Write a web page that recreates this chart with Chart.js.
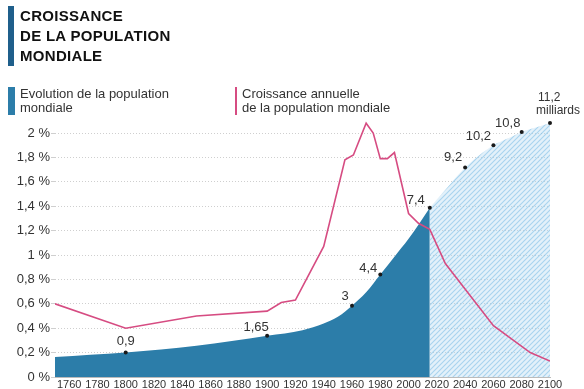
<!DOCTYPE html>
<html>
<head>
<meta charset="utf-8">
<script src="https://cdn.jsdelivr.net/npm/chart.js@4"></script>
<style>
  body { margin: 0; background: #fff; }
  #wrap { position: relative; width: 584px; height: 389px; font-family: "Liberation Sans", Arial, sans-serif; }
  #chart { position: absolute; left: 0; top: 0; }
  .title { position: absolute; left: 8px; top: 8px; border-left: 6px solid #1f5f8b; padding-left: 6px;
           font-weight: bold; font-size: 15px; line-height: 20px; color: #111; letter-spacing: 0.3px; margin-top: -2px; }
  .leg { position: absolute; top: 87px; font-size: 13px; line-height: 14px; color: #333; padding-left: 5px; }
  .leg.blue { left: 8px; border-left: 7px solid #2c7da9; }
  .leg.pink { left: 235px; border-left: 2px solid #d64c82; }
</style>
</head>
<body>
<div id="wrap">
  <canvas id="chart" width="584" height="389"></canvas>
  <div class="title">CROISSANCE<br>DE LA POPULATION<br>MONDIALE</div>
  <div class="leg blue">Evolution de la population<br>mondiale</div>
  <div class="leg pink">Croissance annuelle<br>de la population mondiale</div>
</div>
<script>
// population mondiale (milliards)
const popYears = [1750, 1800, 1850, 1900, 1925, 1940, 1950, 1960, 1970, 1980, 1990, 2000, 2015];
const popValues = [0.7, 0.9, 1.2, 1.65, 1.9, 2.2, 2.5, 3, 3.6, 4.4, 5.2, 6.0, 7.4];
// projection
const projYears = [2015, 2030, 2040, 2050, 2060, 2070, 2080, 2090, 2100];
const projValues = [7.4, 8.5, 9.2, 9.75, 10.2, 10.5, 10.8, 11.0, 11.2];
// croissance annuelle (%)
const growthYears = [1750, 1800, 1850, 1900, 1910, 1920, 1940, 1955, 1961, 1970, 1975, 1980, 1985, 1990, 2000, 2007, 2015, 2026, 2060, 2086, 2100];
const growthValues = [0.6, 0.4, 0.5, 0.54, 0.61, 0.63, 1.07, 1.78, 1.82, 2.08, 2.0, 1.79, 1.79, 1.84, 1.34, 1.26, 1.21, 0.93, 0.42, 0.2, 0.13];
// valeurs annotées
const annoYears = [1800, 1900, 1960, 1980, 2015, 2040, 2060, 2080, 2100];
const annoValues = [0.9, 1.65, 3, 4.4, 7.4, 9.2, 10.2, 10.8, 11.2];
const xTicks = [1760, 1780, 1800, 1820, 1840, 1860, 1880, 1900, 1920, 1940, 1960, 1980, 2000, 2020, 2040, 2060, 2080, 2100];
const yTicks = [0, 0.2, 0.4, 0.6, 0.8, 1, 1.2, 1.4, 1.6, 1.8, 2];

const fmt = v => String(v).replace('.', ',');
const pts = (xs, ys) => xs.map((x, i) => ({ x: x, y: ys[i] }));

// hachures pour la projection
function hatch() {
  const s = 5, c = document.createElement('canvas');
  c.width = s; c.height = s;
  const g = c.getContext('2d');
  g.fillStyle = 'rgba(175,215,240,0.35)';
  g.fillRect(0, 0, s, s);
  g.strokeStyle = 'rgba(120,185,228,0.55)';
  g.lineWidth = 1.1;
  g.beginPath();
  g.moveTo(0, s); g.lineTo(s, 0);
  g.moveTo(-1, 1); g.lineTo(1, -1);
  g.moveTo(s - 1, s + 1); g.lineTo(s + 1, s - 1);
  g.stroke();
  return g.createPattern(c, 'repeat');
}

// label offsets (dx, dy) from the dot
const labelOffsets = [[0, -11], [-11, -8], [-7, -9], [-12, -6], [-14, -7], [-12, -10], [-15, -9], [-14, -9]];

const dotPlugin = {
  id: 'dots',
  afterDatasetsDraw(chart) {
    const ctx = chart.ctx, x = chart.scales.x, pop = chart.scales.pop;
    ctx.save();
    annoYears.forEach((yr, i) => {
      const px = x.getPixelForValue(yr), py = pop.getPixelForValue(annoValues[i]);
      ctx.fillStyle = '#1a1a1a';
      ctx.beginPath();
      ctx.arc(px, py, 2, 0, Math.PI * 2);
      ctx.fill();
      ctx.fillStyle = '#333';
      ctx.textBaseline = 'middle';
      if (i < labelOffsets.length) {
        ctx.font = '13px "Liberation Sans", Arial, sans-serif';
        ctx.textAlign = 'center';
        ctx.fillText(fmt(annoValues[i]), px + labelOffsets[i][0], py + labelOffsets[i][1]);
      } else {
        ctx.font = '12px "Liberation Sans", Arial, sans-serif';
        ctx.textAlign = 'left';
        ctx.fillText(fmt(annoValues[i]), px - 12, py - 25);
        ctx.fillText('milliards', px - 14, py - 12);
      }
    });
    ctx.restore();
  }
};

const sans = '"Liberation Sans", Arial, sans-serif';

const config = {
  type: 'line',
  data: {
    datasets: [
      {
        label: 'Croissance annuelle de la population mondiale',
        data: pts(growthYears, growthValues),
        yAxisID: 'y',
        borderColor: '#d64c82',
        borderWidth: 1.6,
        pointRadius: 0,
        tension: 0,
        fill: false
      },
      {
        label: 'Evolution de la population mondiale',
        data: pts(popYears, popValues),
        yAxisID: 'pop',
        backgroundColor: '#2c7da9',
        borderWidth: 0,
        pointRadius: 0,
        cubicInterpolationMode: 'monotone',
        fill: 'start'
      },
      {
        label: 'Projection',
        data: pts(projYears, projValues),
        yAxisID: 'pop',
        backgroundColor: hatch(),
        borderWidth: 0,
        pointRadius: 0,
        cubicInterpolationMode: 'monotone',
        fill: 'start'
      }
    ]
  },
  options: {
    responsive: false,
    animation: false,
    layout: { padding: { top: 118, right: 34, left: 0, bottom: 0 } },
    plugins: { legend: { display: false }, tooltip: { enabled: false } },
    scales: {
      x: {
        type: 'linear',
        min: 1750,
        max: 2100,
        afterBuildTicks: s => { s.ticks = xTicks.map(v => ({ value: v })); },
        afterFit: s => { s.height = 12; },
        grid: { display: false, drawTicks: false },
        border: { color: '#bbb' },
        ticks: { autoSkip: false, maxRotation: 0, padding: 1, color: '#333',
                 font: { family: sans, size: 11 }, callback: v => String(v) }
      },
      y: {
        position: 'left',
        min: 0,
        max: 2.123,
        afterBuildTicks: s => { s.ticks = yTicks.map(v => ({ value: v })); },
        afterFit: s => { s.width = 55; },
        border: { display: false, dash: [1, 2] },
        grid: { color: '#cfcfcf', tickLength: 4 },
        ticks: { padding: 1, color: '#333', font: { family: sans, size: 13 },
                 callback: v => fmt(Math.round(v * 10) / 10) + ' %' }
      },
      pop: {
        display: false,
        min: -0.2,
        max: 11.425
      }
    }
  },
  plugins: [dotPlugin]
};

new Chart(document.getElementById('chart'), config);
</script>
</body>
</html>
